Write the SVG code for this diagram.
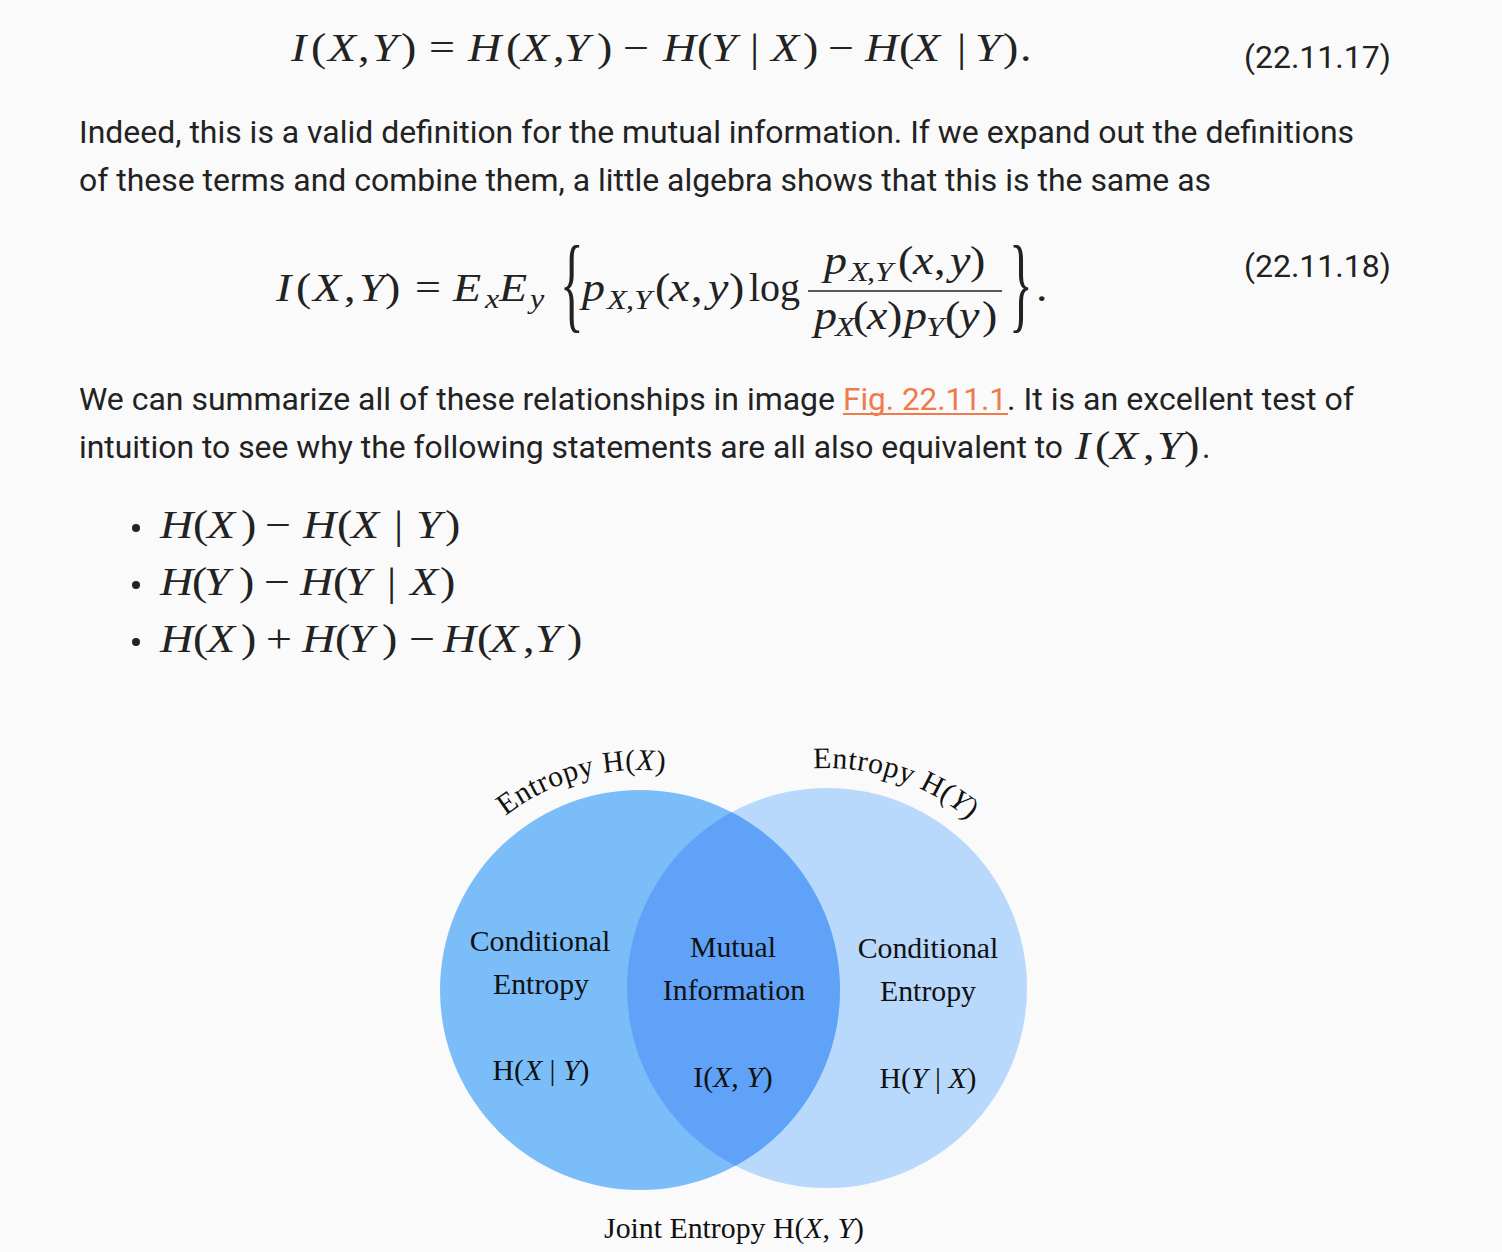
<svg xmlns="http://www.w3.org/2000/svg" width="1502" height="1252" viewBox="0 0 1502 1252">
<style>
.b{font-family:Roboto,"Liberation Sans",sans-serif;font-size:32px;fill:#222}
.m{font-family:"Liberation Serif",serif;font-size:40px;fill:#222}
.i{font-style:italic}
.s{font-size:28px}
.v{font-family:"Liberation Serif",serif;font-size:29.8px;fill:#111}
.arc{letter-spacing:0.6px}
.lk{fill:#ef7a4c}
</style>
<defs>
<clipPath id="clipL"><circle cx="640" cy="990" r="200"/></clipPath>
<path id="arcL" d="M471.5,848.6 A220,220 0 0 1 808.5,848.6" fill="none"/>
<path id="arcR" d="M658.5,846.6 A220,220 0 0 1 995.5,846.6" fill="none"/>
</defs>
<rect width="1502" height="1252" fill="#fafafa"/>

<g id="eq1">
<text class="m" y="61" transform="scale(1.15 1)"><tspan class="i" x="253">I</tspan><tspan x="270.4">(</tspan><tspan class="i" x="285.2">X</tspan><tspan x="311.3">,</tspan><tspan class="i" x="323.5">Y</tspan><tspan x="348.7">)</tspan><tspan x="373">=</tspan><tspan class="i" x="407">H</tspan><tspan x="440">(</tspan><tspan class="i" x="453">X</tspan><tspan x="480.9">,</tspan><tspan class="i" x="490.4">Y</tspan><tspan x="519.1">)</tspan><tspan x="541.7">−</tspan><tspan class="i" x="576.5">H</tspan><tspan x="606.1">(</tspan><tspan class="i" x="618.3">Y</tspan><tspan x="652.2">|</tspan><tspan class="i" x="670.4">X</tspan><tspan x="698.3">)</tspan><tspan x="720">−</tspan><tspan class="i" x="752.2">H</tspan><tspan x="781.7">(</tspan><tspan class="i" x="793">X</tspan><tspan x="832.2">|</tspan><tspan class="i" x="847.8">Y</tspan><tspan x="872.2">)</tspan><tspan x="887">.</tspan></text>
<text class="b" x="1244" y="68">(22.11.17)</text>
</g>

<g id="para1">
<text class="b" x="79" y="143" textLength="1275" lengthAdjust="spacingAndGlyphs">Indeed, this is a valid definition for the mutual information. If we expand out the definitions</text>
<text class="b" x="79" y="191" textLength="1132" lengthAdjust="spacingAndGlyphs">of these terms and combine them, a little algebra shows that this is the same as</text>
</g>

<g id="eq2">
<text class="m" y="301" transform="scale(1.15 1)"><tspan class="i" x="240">I</tspan><tspan x="257.4">(</tspan><tspan class="i" x="272.2">X</tspan><tspan x="299.1">,</tspan><tspan class="i" x="312.2">Y</tspan><tspan x="334.8">)</tspan><tspan x="360.9">=</tspan><tspan class="i" x="393.9">E</tspan><tspan class="i s" x="421.7" y="308">x</tspan><tspan class="i" x="433.9" y="301">E</tspan><tspan class="i s" x="460.9" y="308">y</tspan><tspan class="i" x="506.1" y="301">p</tspan><tspan class="i s" x="527.8" y="309">X</tspan><tspan class="s" x="544.3" y="309">,</tspan><tspan class="i s" x="551.3" y="309">Y</tspan><tspan x="569.6" y="301">(</tspan><tspan class="i" x="581.7">x</tspan><tspan x="600.9">,</tspan><tspan class="i" x="615.7">y</tspan><tspan x="633.9">)</tspan><tspan x="900.9">.</tspan></text>
<text class="m" x="749" y="301">log</text>
<text class="m" y="274" transform="scale(1.15 1)"><tspan class="i" x="716.5">p</tspan><tspan class="i s" x="738.3" y="281">X</tspan><tspan class="s" x="753.9" y="281">,</tspan><tspan class="i s" x="760.9" y="281">Y</tspan><tspan x="780.9" y="274">(</tspan><tspan class="i" x="793.9">x</tspan><tspan x="812.2">,</tspan><tspan class="i" x="826.1">y</tspan><tspan x="843.5">)</tspan></text>
<line x1="808" y1="291" x2="1002" y2="291" stroke="#222" stroke-width="1.6"/>
<text class="m" y="329" transform="scale(1.15 1)"><tspan class="i" x="707.8">p</tspan><tspan class="i s" x="726.1" y="336">X</tspan><tspan x="741.7" y="329">(</tspan><tspan class="i" x="753.9">x</tspan><tspan x="771.3">)</tspan><tspan class="i" x="786.1">p</tspan><tspan class="i s" x="805.2" y="336">Y</tspan><tspan x="821.7" y="329">(</tspan><tspan class="i" x="833.9">y</tspan><tspan x="853.9">)</tspan></text>
<text class="m" transform="translate(560 319) scale(0.47 1)" style="font-size:105px">{</text>
<text class="m" transform="translate(1009 319) scale(0.47 1)" style="font-size:105px">}</text>
<text class="b" x="1244" y="277">(22.11.18)</text>
</g>

<g id="para3">
<text class="b" x="79" y="410" textLength="756" lengthAdjust="spacingAndGlyphs">We can summarize all of these relationships in image</text>
<text class="b lk" x="843" y="410" textLength="164" lengthAdjust="spacingAndGlyphs">Fig. 22.11.1</text>
<line x1="843" y1="414" x2="1008" y2="414" stroke="#ef7a4c" stroke-width="2"/>
<text class="b" x="1007" y="410" textLength="347" lengthAdjust="spacingAndGlyphs">. It is an excellent test of</text>
<text class="b" x="79" y="458" textLength="984" lengthAdjust="spacingAndGlyphs">intuition to see why the following statements are all also equivalent to</text>
<text class="m" y="459" transform="scale(1.15 1)"><tspan class="i" x="934.8">I</tspan><tspan x="952.2">(</tspan><tspan class="i" x="965.2">X</tspan><tspan x="993.9">,</tspan><tspan class="i" x="1006.1">Y</tspan><tspan x="1029.6">)</tspan></text>
<text class="b" x="1202" y="458">.</text>
</g>

<g id="bullets" fill="#222">
<circle cx="136" cy="528" r="4"/>
<text class="m" y="538" transform="scale(1.15 1)"><tspan class="i" x="139.1">H</tspan><tspan x="167.8">(</tspan><tspan class="i" x="180">X</tspan><tspan x="209.6">)</tspan><tspan x="230.4">−</tspan><tspan class="i" x="263.5">H</tspan><tspan x="293">(</tspan><tspan class="i" x="305.2">X</tspan><tspan x="342.6">|</tspan><tspan class="i" x="361.7">Y</tspan><tspan x="387">)</tspan></text>
<circle cx="136" cy="585" r="4"/>
<text class="m" y="595" transform="scale(1.15 1)"><tspan class="i" x="139.1">H</tspan><tspan x="167">(</tspan><tspan class="i" x="177.4">Y</tspan><tspan x="207.8">)</tspan><tspan x="229.6">−</tspan><tspan class="i" x="260.9">H</tspan><tspan x="289.6">(</tspan><tspan class="i" x="300">Y</tspan><tspan x="336.5">|</tspan><tspan class="i" x="356.5">X</tspan><tspan x="382.6">)</tspan></text>
<circle cx="136" cy="642" r="4"/>
<text class="m" y="652" transform="scale(1.15 1)"><tspan class="i" x="139.1">H</tspan><tspan x="167.8">(</tspan><tspan class="i" x="180">X</tspan><tspan x="209.6">)</tspan><tspan x="231.3">+</tspan><tspan class="i" x="262.6">H</tspan><tspan x="291.3">(</tspan><tspan class="i" x="302.6">Y</tspan><tspan x="332.2">)</tspan><tspan x="355.7">−</tspan><tspan class="i" x="385.2">H</tspan><tspan x="414.8">(</tspan><tspan class="i" x="426.1">X</tspan><tspan x="454.8">,</tspan><tspan class="i" x="465.2">Y</tspan><tspan x="493">)</tspan></text>
</g>

<g id="venn">
<g id="circleY"><circle cx="827" cy="988" r="200" fill="#b8d9fb"/></g>
<g id="circleX"><circle cx="640" cy="990" r="200" fill="#7abdf9"/></g>
<g id="overlap"><circle cx="827" cy="988" r="200" fill="#60a2f7" clip-path="url(#clipL)"/></g>
<text class="v arc"><textPath href="#arcL" startOffset="47">Entropy H(<tspan class="i">X</tspan>)</textPath></text>
<text class="v arc"><textPath href="#arcR" startOffset="178">Entropy H(<tspan class="i">Y</tspan>)</textPath></text>
<g id="condX" text-anchor="middle">
<text class="v" x="540" y="951">Conditional</text>
<text class="v" x="541" y="994">Entropy</text>
<text class="v" x="541" y="1080">H(<tspan class="i">X</tspan> | <tspan class="i">Y</tspan>)</text>
</g>
<g id="mutual" text-anchor="middle">
<text class="v" x="733" y="957">Mutual</text>
<text class="v" x="734" y="1000">Information</text>
<text class="v" x="733" y="1087">I(<tspan class="i">X</tspan>, <tspan class="i">Y</tspan>)</text>
</g>
<g id="condY" text-anchor="middle">
<text class="v" x="928" y="958">Conditional</text>
<text class="v" x="928" y="1001">Entropy</text>
<text class="v" x="928" y="1088">H(<tspan class="i">Y</tspan> | <tspan class="i">X</tspan>)</text>
</g>
<text id="joint" class="v" x="734" y="1238" text-anchor="middle">Joint Entropy H(<tspan class="i">X</tspan>, <tspan class="i">Y</tspan>)</text>
</g>
</svg>
